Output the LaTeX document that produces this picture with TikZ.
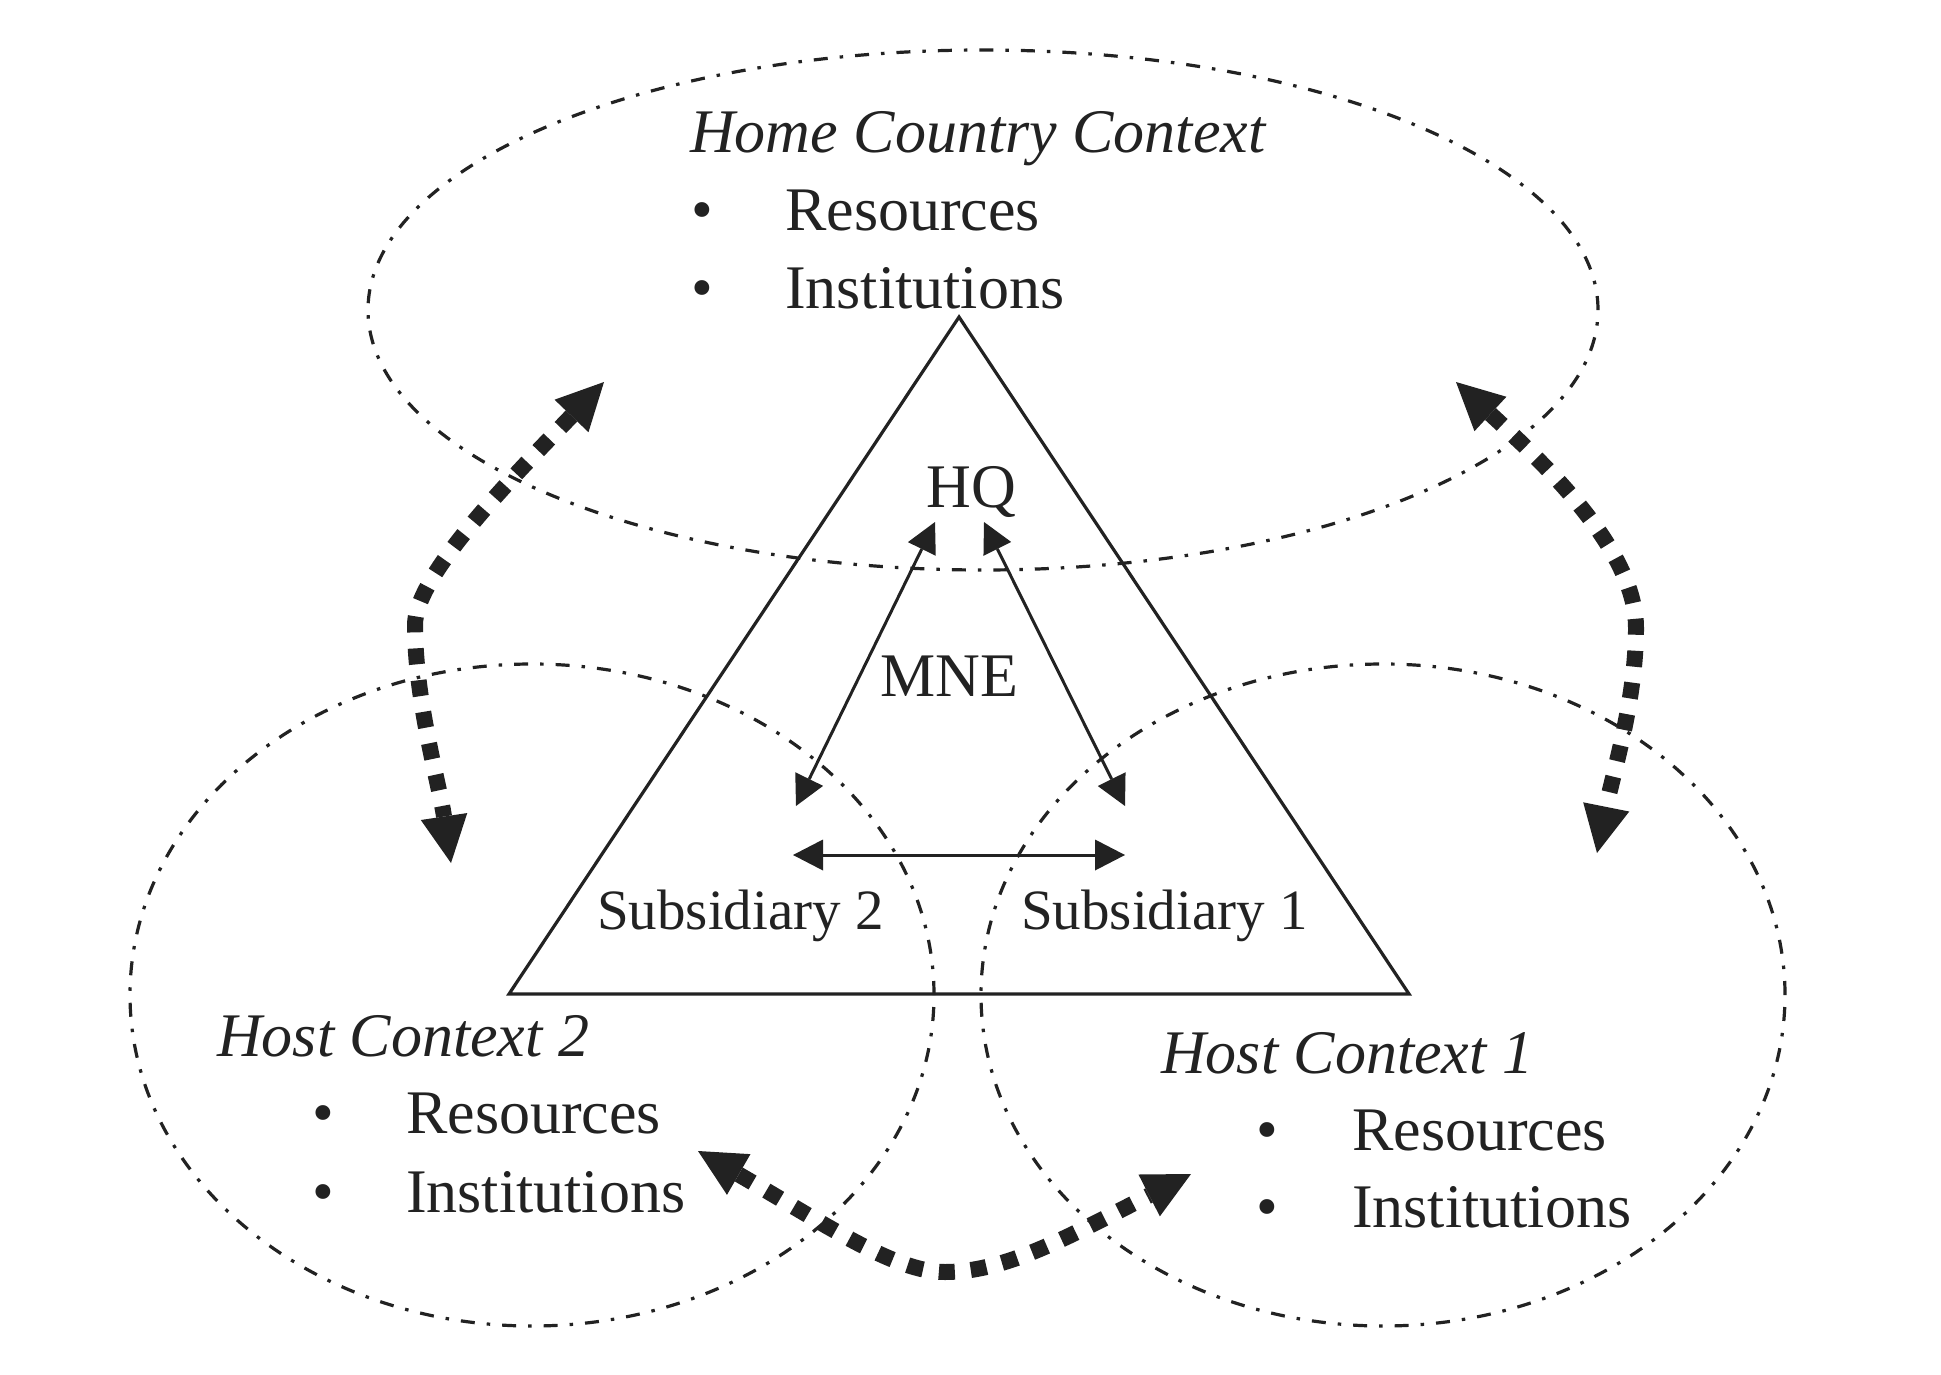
\documentclass[tikz,border=0pt]{standalone}
\usepackage{fontspec}
\setmainfont{Liberation Serif}
\usetikzlibrary{arrows.meta}
\definecolor{ink}{HTML}{222222}
\begin{document}
\begin{tikzpicture}[x=1pt,y=-1pt,
  ctx/.style={draw=ink, line width=3.2pt, dash pattern=on 14pt off 12pt on 3.5pt off 12pt},
  mne/.style={draw=ink, line width=3.2pt, line join=miter},
  link/.style={draw=ink, line width=3pt, {Triangle[length=30pt,width=31pt,line width=0pt]}-{Triangle[length=30pt,width=31pt,line width=0pt]}},
  flow/.style={draw=ink, line width=16pt, dash pattern=on 16pt off 16pt, {Triangle[length=47pt,width=47pt,line width=0pt]}-{Triangle[length=47pt,width=47pt,line width=0pt]}},
  lbl/.style={inner sep=0pt, anchor=base west, text=ink, font=\fontsize{62}{74}\selectfont},
  ttl/.style={lbl, font=\fontsize{62}{74}\selectfont\itshape},
  bul/.style={inner sep=0pt, anchor=base, text=ink, font=\fontsize{62}{74}\selectfont},
  sub/.style={inner sep=0pt, anchor=base west, text=ink, font=\fontsize{57}{68}\selectfont}]
\useasboundingbox (0,0) rectangle (1941,1375);

% context ellipses
\coordinate (c-home) at (983,310);
\coordinate (c-h2) at (532,995);
\coordinate (c-h1) at (1383,995);
\draw[ctx] (c-home) ellipse [x radius=615pt, y radius=260pt];
\draw[ctx] (c-h2) ellipse [x radius=402pt, y radius=331pt];
\draw[ctx] (c-h1) ellipse [x radius=402pt, y radius=331pt];

% MNE triangle
\coordinate (t-apex) at (959,317);
\coordinate (t-bl) at (509,994);
\coordinate (t-br) at (1409,994);
\draw[mne] (t-apex) -- (t-bl) -- (t-br) -- cycle;

% texts
\node[ttl] (home) at (690,153) {Home Country Context};
\node[bul] (hb1) at (702,230) {\textbullet};
\node[lbl] (hres) at (785,230) {Resources};
\node[bul] (hb2) at (702,308) {\textbullet};
\node[lbl] (hins) at (785,308) {Institutions};

\node[bul] (hq) at (971,507) {HQ};
\node[bul] (mnelbl) at (949,696) {MNE};
\node[sub] (sub2) at (597,929) {Subsidiary 2};
\node[sub] (sub1) at (1021,929) {Subsidiary 1};

\node[ttl] (host2) at (217,1056) {Host Context 2};
\node[bul] (ab1) at (323,1133) {\textbullet};
\node[lbl] (ares) at (406,1133) {Resources};
\node[bul] (ab2) at (323,1212) {\textbullet};
\node[lbl] (ains) at (406,1212) {Institutions};

\node[ttl] (host1) at (1161,1073) {Host Context 1};
\node[bul] (bb1) at (1267,1150) {\textbullet};
\node[lbl] (bres) at (1352,1150) {Resources};
\node[bul] (bb2) at (1267,1227) {\textbullet};
\node[lbl] (bins) at (1352,1227) {Institutions};

% internal MNE links
\coordinate (hq-l) at (935,522);
\coordinate (hq-r) at (984,522);
\coordinate (s2-t) at (796,806);
\coordinate (s1-t) at (1125,806);
\coordinate (s2-h) at (793,855);
\coordinate (s1-h) at (1125,855);
\draw[link] (hq-l) -- (s2-t);
\draw[link] (hq-r) -- (s1-t);
\draw[link] (s2-h) -- (s1-h);

% context interaction arrows
\coordinate (home-l) at (604,382);
\coordinate (ml) at (415,625);
\coordinate (h2-t) at (451,863);
\draw[flow] (home-l) .. controls (514,476) and (415,575) .. (ml)
  .. controls (415,700) and (439,783) .. (h2-t);

\coordinate (home-r) at (1456,382);
\coordinate (mr) at (1636,628);
\coordinate (h1-t) at (1597,853);
\draw[flow] (home-r) .. controls (1540,460) and (1636,548) .. (mr)
  .. controls (1636,700) and (1613,773) .. (h1-t);

\coordinate (h2-b) at (698,1151);
\coordinate (mb) at (945,1272);
\coordinate (h1-b) at (1191,1174);
\draw[flow] (h2-b) .. controls (828,1226) and (895,1272) .. (mb)
  .. controls (1005,1272) and (1066,1238) .. (h1-b);
\end{tikzpicture}
\end{document}
